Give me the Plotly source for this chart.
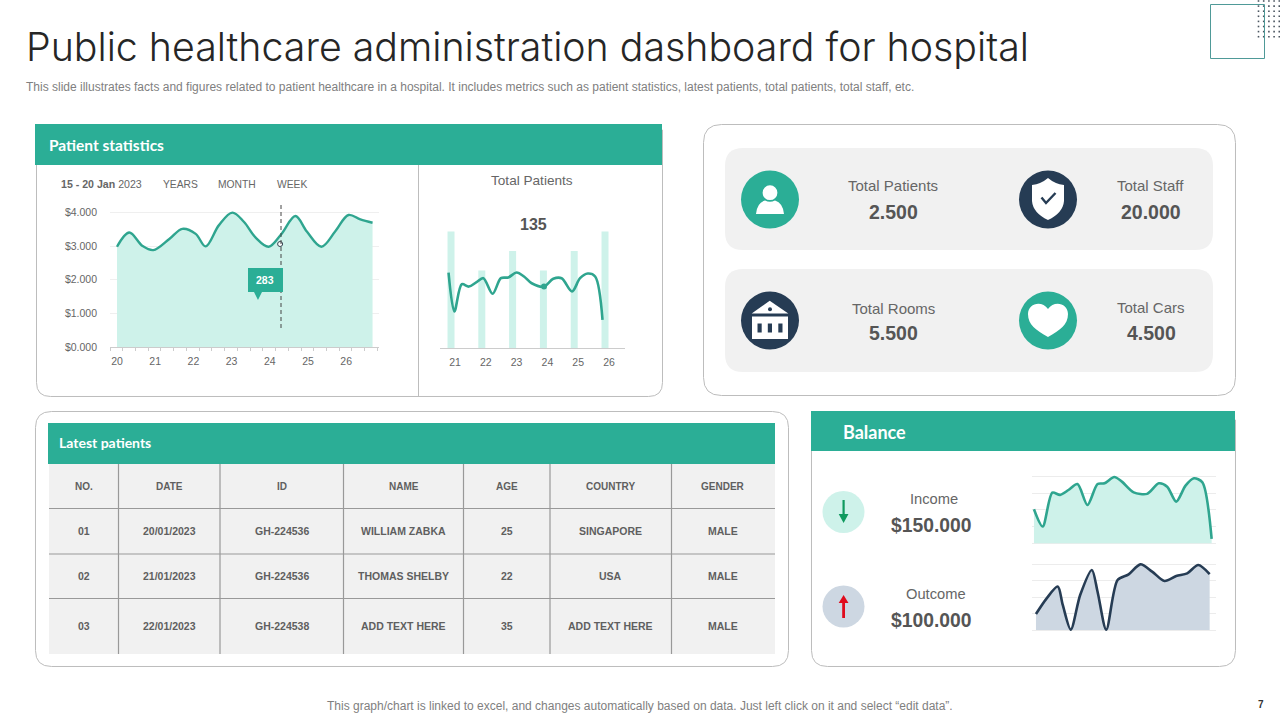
import re
import plotly.graph_objects as go

# ---------- data ----------
stat_x = [20, 20.32, 20.67, 20.95, 21.37, 21.71, 22.06, 22.32, 22.67, 23.02, 23.32, 23.63, 23.97, 24.3, 24.67, 24.97, 25.35, 25.71, 26.06, 26.37, 26.69]
stat_y = [2.98, 3.40, 3.0, 2.88, 3.21, 3.51, 3.36, 2.99, 3.62, 3.99, 3.72, 3.25, 2.98, 3.35, 3.89, 3.43, 2.98, 3.43, 3.92, 3.79, 3.69]
stat_ticks = [20, 21, 22, 23, 24, 25, 26]
stat_y_ticks = [0, 1, 2, 3, 4]
stat_hover_x = [24.27]
stat_hover_y = [3.06]
stat_label = "283"

bar_x = [21, 22, 23, 24, 25, 26]
bar_y = [6, 4, 5, 4, 5, 6]
tp_x = [20.79, 20.98, 21.22, 21.45, 21.70, 21.92, 22.22, 22.49, 22.73, 23.0, 23.24, 23.49, 23.89, 24.19, 24.46, 24.80, 25.06, 25.31, 25.55, 25.79]
tp_y = [3.89, 1.89, 3.29, 3.17, 3.40, 3.60, 2.80, 3.60, 3.64, 3.89, 3.69, 3.34, 3.17, 3.57, 3.60, 2.92, 3.60, 3.84, 3.69, 1.46]
tp_mark_x = [23.89]
tp_mark_y = [3.17]

income_x = [-0.23, 0.77, 1.88, 2.77, 3.73, 4.77, 5.92, 7.08, 7.88, 9.0, 9.88, 11.23, 12.77, 14.12, 15.08, 16.12, 17.19, 18.15, 19.12, 20.19]
income_y = [2.03, 1.0, 3.02, 2.89, 3.18, 3.54, 2.29, 3.54, 3.58, 3.96, 3.68, 3.04, 2.95, 3.58, 3.38, 2.49, 3.44, 3.88, 3.64, 0.26]
outcome_x = [0, 1.23, 2.5, 3.08, 4.0, 5.08, 6.42, 7.08, 8.08, 9.38, 10.65, 12.0, 13.35, 14.77, 16.12, 17.38, 18.65, 19.96]
outcome_y = [0.97, 1.92, 2.63, 1.52, 0.02, 2.12, 3.64, 2.32, 0.02, 3.03, 3.37, 3.98, 3.54, 2.97, 3.27, 3.43, 3.94, 3.39]

table_header = ["NO.", "DATE", "ID", "NAME", "AGE", "COUNTRY", "GENDER"]
table_rows = [
    ["01", "20/01/2023", "GH-224536", "WILLIAM ZABKA", "25", "SINGAPORE", "MALE"],
    ["02", "21/01/2023", "GH-224536", "THOMAS SHELBY", "22", "USA", "MALE"],
    ["03", "22/01/2023", "GH-224538", "ADD TEXT HERE", "35", "ADD TEXT HERE", "MALE"],
]

title = "Public healthcare administration dashboard for hospital"
subtitle = ("This slide illustrates facts and figures related to patient healthcare in a hospital. "
            "It includes metrics such as patient statistics, latest patients, total patients, total staff, etc.")
footer = "This graph/chart is linked to excel, and changes automatically based on data. Just left click on it and select “edit data”."

# ---------- style ----------
W, H = 1280, 720
TEAL = "#2bae96"
LINE = "#2fa58f"
MINT = "#cef2ea"
NAVY = "#263c54"
SLATE = "#cdd7e2"
GREY = "#f1f1f1"
BORDER = "#bdbdbd"
TXT = "#666666"
DARK = "#555555"
SANS = "Liberation Sans"
HEAD = "Lato"


def fx(x):
    return x / W


def fy(y):
    return 1 - y / H


def path(d):
    return re.sub(r"(-?[\d.]+)[ ,](-?[\d.]+)", lambda m: f"{fx(float(m[1])):.5f},{fy(float(m[2])):.5f}", d)


def rr(x0, y0, x1, y1, r, top=True):
    rt = r if top else 0
    return path(
        f"M{x0 + rt} {y0} L{x1 - rt} {y0} Q{x1} {y0} {x1} {y0 + rt} L{x1} {y1 - r} Q{x1} {y1} {x1 - r} {y1} "
        f"L{x0 + r} {y1} Q{x0} {y1} {x0} {y1 - r} L{x0} {y0 + rt} Q{x0} {y0} {x0 + rt} {y0} Z"
    )


shapes = []
annots = []


def sh_path(d, fill=None, line=None, lw=1, layer="below", dash=None):
    shapes.append(dict(type="path", path=d, xref="paper", yref="paper", fillcolor=fill or "rgba(0,0,0,0)",
                       line=dict(color=line or "rgba(0,0,0,0)", width=lw if line else 0, dash=dash), layer=layer))


def rect(x0, y0, x1, y1, fill=None, line=None, lw=1, layer="below"):
    shapes.append(dict(type="rect", xref="paper", yref="paper", x0=fx(x0), x1=fx(x1), y0=fy(y1), y1=fy(y0),
                       fillcolor=fill or "rgba(0,0,0,0)", line=dict(color=line or "rgba(0,0,0,0)", width=lw if line else 0),
                       layer=layer))


def circle(cx, cy, r, fill, layer="below"):
    shapes.append(dict(type="circle", xref="paper", yref="paper", x0=fx(cx - r), x1=fx(cx + r), y0=fy(cy + r), y1=fy(cy - r),
                       fillcolor=fill, line=dict(width=0), layer=layer))


def hline(x0, x1, y, color, lw=1, dash=None, layer="below"):
    shapes.append(dict(type="line", xref="paper", yref="paper", x0=fx(x0), x1=fx(x1), y0=fy(y), y1=fy(y),
                       line=dict(color=color, width=lw, dash=dash), layer=layer))


def vline(x, y0, y1, color, lw=1, dash=None, layer="below"):
    shapes.append(dict(type="line", xref="paper", yref="paper", x0=fx(x), x1=fx(x), y0=fy(y0), y1=fy(y1),
                       line=dict(color=color, width=lw, dash=dash), layer=layer))


def text(x, y, s, size, color=TXT, family=SANS, anchor="center", bold=False, weight=None):
    annots.append(dict(x=fx(x), y=fy(y), xref="paper", yref="paper", text=s, showarrow=False, xanchor=anchor,
                       yanchor="middle", borderpad=0,
                       font=dict(size=size, color=color, family=family, weight=weight or (700 if bold else 400))))


# ---------- page furniture ----------
text(25, 46, title, 39.3, "#262626", "Inter", "left", weight=300)
text(25, 87, subtitle, 12, "#808080", SANS, "left")
text(640, 706, footer, 12, "#808080")
text(1261, 704, "7", 10, "#333333", SANS, bold=True)
rect(1210.5, 4.5, 1264.5, 58.5, None, "#4f9a98", 1, "above")
for col in range(5):
    for row in range(8):
        cx, cy = 1258.5 + col * 5.2, 1 + row * 5.1
        rect(cx - 0.8, cy - 0.8, cx + 0.8, cy + 0.8, "#4a5560")

# patient statistics panel
sh_path(rr(36.5, 130, 662.5, 396.5, 14, top=False), "#ffffff", BORDER)
rect(35, 124, 662, 165, TEAL)
vline(418.5, 165, 396, BORDER)
text(48, 145, "Patient statistics", 15.5, "#ffffff", HEAD, "left", bold=True)
text(60, 184, "<b>15 - 20 Jan</b> 2023", 10.6, "#666666", SANS, "left")
text(180, 184, "YEARS", 10.3)
text(237, 184, "MONTH", 10.3)
text(291.5, 184, "WEEK", 10.3)
text(532, 180, "Total Patients", 13.6)
text(533.5, 224, "135", 16, DARK, SANS, bold=True)

# KPI panel
sh_path(rr(703.5, 124.5, 1235.5, 395.5, 18), "#ffffff", BORDER)
sh_path(rr(725, 148, 1213, 250, 18), GREY)
sh_path(rr(725, 269, 1213, 372, 18), GREY)
circle(770, 199.5, 29, TEAL)
circle(1048, 199.5, 29, NAVY)
circle(770, 320.5, 29, NAVY)
circle(1048, 320.5, 29, TEAL)
# person
circle(770, 192.7, 7.4, "#ffffff")
sh_path(path("M756 214 Q757 203 765 200.5 Q770 203 775 200.5 Q783 203 784 214 Z"), "#ffffff")
# shield + tick
sh_path(path("M1048 178 Q1055 184 1064 185 L1064 201 Q1063 213 1048 220 Q1033 213 1032 201 L1032 185 Q1041 184 1048 178 Z"), "#ffffff")
sh_path(path("M1041.5 197.5 L1046 203 L1055.5 193"), None, NAVY, 2.4)
# building
sh_path(path("M769.7 300.7 L751.7 313.5 L788.3 313.5 Z"), "#ffffff")
circle(770, 309.3, 2, NAVY)
rect(752, 316.5, 788, 339, "#ffffff")
rect(757.5, 323.5, 761.7, 332.5, NAVY)
rect(767.8, 323.5, 772, 332.5, NAVY)
rect(778.3, 323.5, 782.5, 332.5, NAVY)
# heart
sh_path(path("M1048 337 C1036 330 1028 325 1028 314 C1028 303 1042 300 1048 309 C1054 300 1068 303 1068 314 C1068 325 1060 330 1048 337 Z"), "#ffffff")

text(893, 186, "Total Patients", 15)
text(893, 212, "2.500", 19.5, DARK, SANS, bold=True)
text(1150.5, 186, "Total Staff", 15)
text(1151, 212, "20.000", 19.5, DARK, SANS, bold=True)
text(893.5, 308, "Total Rooms", 15)
text(893, 332.5, "5.500", 19.5, DARK, SANS, bold=True)
text(1151, 307, "Total Cars", 15)
text(1151, 333, "4.500", 19.5, DARK, SANS, bold=True)

# table panel
sh_path(rr(35.5, 411.5, 788.5, 666.5, 16), "#ffffff", BORDER)
rect(48, 423, 775, 464, TEAL)
text(57.5, 442.5, "Latest patients", 14, "#ffffff", HEAD, "left", bold=True)
rect(49, 464, 775, 654, GREY)
col_edges = [49, 118.5, 220, 343.5, 463.5, 550, 671.5, 775]
row_edges = [464, 508.5, 554, 598.5, 654]
for e in col_edges[1:-1]:
    vline(e, 464, 654, "#999999", 1.2)
for e in row_edges[1:-1]:
    hline(49, 775, e, "#999999", 1.2)
for j, h in enumerate(table_header):
    cx = (col_edges[j] + col_edges[j + 1]) / 2
    text(cx, (row_edges[0] + row_edges[1]) / 2, h, 10, "#5f5f5f", SANS, bold=True)
    for i, row in enumerate(table_rows):
        text(cx, (row_edges[i + 1] + row_edges[i + 2]) / 2, row[j], 10.5, "#5f5f5f", SANS, bold=True)

# balance panel
sh_path(rr(811.5, 420, 1235.5, 666.5, 16, top=False), "#ffffff", BORDER)
rect(811, 411, 1235, 451, TEAL)
text(841.5, 432, "Balance", 18, "#ffffff", HEAD, "left", bold=True)
circle(843.5, 512, 21, MINT)
circle(843.5, 606.5, 21, SLATE)
sh_path(path("M842.5 500 L844.7 500 L844.7 514 L848.5 514 L843.6 523 L838.7 514 L842.5 514 Z"), "#109a5f")
sh_path(path("M842.2 618 L845 618 L845 603 L848.5 603 L843.6 595 L838.7 603 L842.2 603 Z"), "#e00b1c")
text(934, 499, "Income", 14.7)
text(930.5, 525, "$150.000", 19.3, DARK, SANS, bold=True)
text(935.5, 594, "Outcome", 14.7)
text(930.5, 620, "$100.000", 19.3, DARK, SANS, bold=True)


# ---------- charts ----------
def dom_x(a, b):
    return [a / W, b / W]


def dom_y(top, bottom):
    return [1 - bottom / H, 1 - top / H]


fig = go.Figure()

# area chart: one unit is 38.2 px, one thousand is 33.75 px
X0, X1 = 110, 379
YB, YT = 347.3, 205
fig.add_trace(go.Scatter(x=stat_x, y=stat_y, mode="lines", xaxis="x", yaxis="y", fill="tozeroy", fillcolor=MINT,
                         line=dict(color=LINE, width=2.4, shape="spline", smoothing=1)))
fig.add_trace(go.Scatter(x=stat_hover_x, y=stat_hover_y, mode="markers", xaxis="x", yaxis="y",
                         marker=dict(size=5, color="#ffffff", line=dict(color="#33424f", width=1))))
# tooltip and guide line
vline(281, 205, 330, "#444444", 1, "4px,3px", "above")
sh_path(path("M248 268 L283 268 L283 292 L262 292 L258 300 L254 292 L248 292 Z"), TEAL, layer="above")
text(265, 280, stat_label, 10.5, "#ffffff", SANS, bold=True)

# bars + line
fig.add_trace(go.Bar(x=bar_x, y=bar_y, xaxis="x2", yaxis="y2", marker=dict(color=MINT, line=dict(width=0)),
                     width=0.227, offset=-0.243))
fig.add_trace(go.Scatter(x=tp_x, y=tp_y, mode="lines", xaxis="x2", yaxis="y2",
                         line=dict(color=LINE, width=2.6, shape="spline", smoothing=0.9)))
fig.add_trace(go.Scatter(x=tp_mark_x, y=tp_mark_y, mode="markers", xaxis="x2", yaxis="y2",
                         marker=dict(size=6, color=LINE)))

# mini charts
fig.add_trace(go.Scatter(x=income_x, y=income_y, mode="lines", xaxis="x3", yaxis="y3", fill="tozeroy", fillcolor=MINT,
                         line=dict(color=LINE, width=2.6, shape="spline", smoothing=0.8)))
fig.add_trace(go.Scatter(x=outcome_x, y=outcome_y, mode="lines", xaxis="x4", yaxis="y4", fill="tozeroy", fillcolor=SLATE,
                         line=dict(color=NAVY, width=2.6, shape="spline", smoothing=0.8)))

tickfont = dict(size=10.5, color="#666666", family=SANS)
fig.update_layout(
    width=W, height=H, autosize=False, margin=dict(l=0, r=0, t=0, b=0, pad=0, autoexpand=False),
    paper_bgcolor="#ffffff", plot_bgcolor="rgba(0,0,0,0)", showlegend=False, barmode="overlay", hovermode=False,
    shapes=shapes, annotations=annots,
    xaxis=dict(domain=dom_x(X0, X1), range=[20 - 7 / 38.2, 20 + (X1 - 117) / 38.2], tickvals=stat_ticks, showgrid=False,
               zeroline=False, showline=True, linecolor="#cccccc", linewidth=1, ticks="", tickfont=tickfont,
               ticklabelstandoff=4, anchor="y",
               minor=dict(ticks="outside", dtick=1 / 3, tick0=20 - 7 / 38.2, ticklen=3, tickcolor="#cccccc", showgrid=False)),
    yaxis=dict(domain=dom_y(YT, YB), range=[0, (YB - YT) / 33.75], tickvals=stat_y_ticks, tickformat="$.3f", showgrid=True,
               gridcolor="#efefef", zeroline=False, showline=False, tickfont=tickfont, ticklabelstandoff=12, anchor="x"),
    xaxis2=dict(domain=dom_x(440, 625), range=[21 - 15 / 30.8, 21 + 170 / 30.8], tickvals=bar_x, showgrid=False, zeroline=False,
                showline=True, linecolor="#cccccc", linewidth=1, ticks="", tickfont=tickfont, ticklabelstandoff=4, anchor="y2"),
    yaxis2=dict(domain=dom_y(212, 348.3), range=[0, 7], visible=False, anchor="x2"),
    xaxis3=dict(domain=dom_x(1031.7, 1216), range=[-0.49, 20.69], visible=False, anchor="y3"),
    yaxis3=dict(domain=dom_y(474.6, 545), range=[-0.1, 4.1], tickvals=[0, 1, 2, 3, 4], showticklabels=False, showgrid=True,
                gridcolor="#ececec", zeroline=False, showline=False, anchor="x3"),
    xaxis4=dict(domain=dom_x(1031.7, 1216), range=[-0.49, 20.69], visible=False, anchor="y4"),
    yaxis4=dict(domain=dom_y(562.35, 631.65), range=[-0.1, 4.1], tickvals=[0, 1, 2, 3, 4], showticklabels=False, showgrid=True,
                gridcolor="#ececec", zeroline=False, showline=False, anchor="x4"),
)

fig.write_html("out.html", config={"displayModeBar": False},
               post_script="document.body.style.margin='0';document.body.style.overflow='hidden';")
